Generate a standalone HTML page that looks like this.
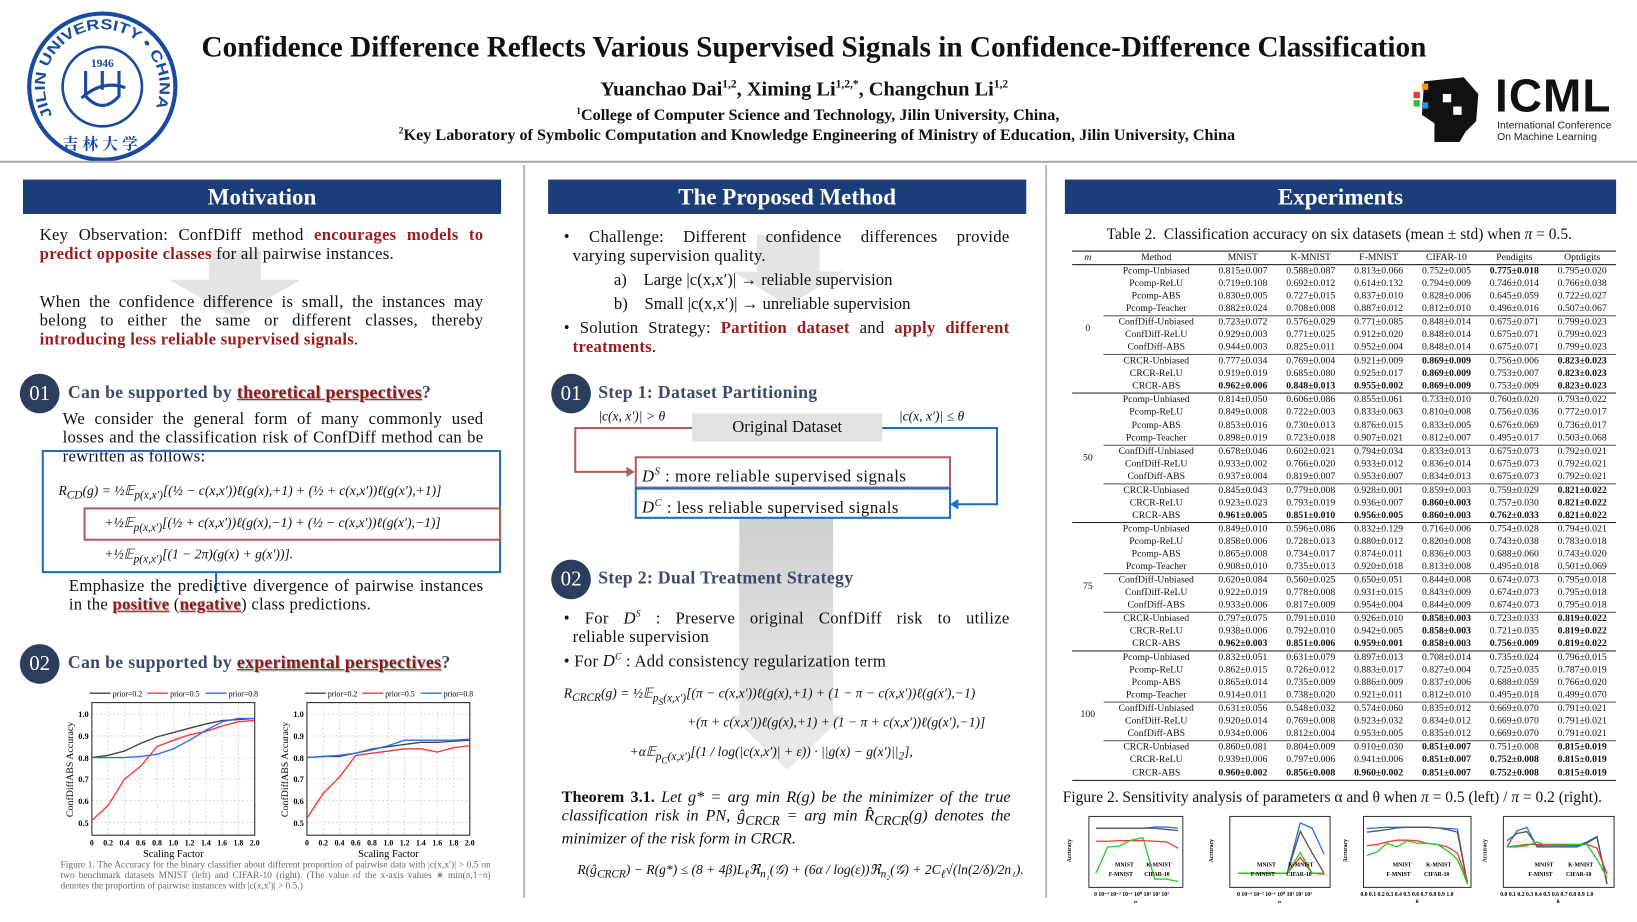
<!DOCTYPE html>
<html><head><meta charset="utf-8">
<style>
*{margin:0;padding:0;box-sizing:border-box}
body{width:1637px;height:922px;overflow:hidden;background:#fff;font-family:"Liberation Serif",serif;color:#111}
#w{position:absolute;left:0;top:0;width:1568px;height:883px;transform:scale(1.044);transform-origin:0 0}
.a{position:absolute;white-space:nowrap}
.bar{position:absolute;height:33px;background:#1c3e78;color:#fff;font-weight:bold;font-size:22px;text-align:center;line-height:33px}
.t{position:absolute;font-size:16px;line-height:18px;text-align:justify;letter-spacing:.25px}
.j{display:block;text-align:justify;text-align-last:justify}
.r{color:#9b1c1c;font-weight:bold}
.circ{position:absolute;width:38px;height:38px;border-radius:50%;background:#2c3d5e;color:#fff;font-size:20px;text-align:center;line-height:38px}
.h{position:absolute;font-weight:bold;font-size:17px;color:#3b4a6c;white-space:nowrap;letter-spacing:.3px}
.u{color:#8b1a1a;text-decoration:underline;text-shadow:1px 1px 1px #aaa}
.m{font-style:italic;font-size:13px}
table{border-collapse:collapse;table-layout:fixed;font-size:9.3px}
td{height:12.1px;line-height:12px;text-align:center;padding:0;white-space:nowrap}
b{font-weight:bold}
tr.g td{border-top:1px solid #555}
tr.G td{border-top:1.5px solid #222}
</style></head><body><div id="w">
<!-- header -->
<svg class="a" style="left:20px;top:6px" width="160" height="155" viewBox="0 0 160 155" font-family="Liberation Sans,sans-serif">
<defs><path id="arc" d="M30.4 104.5 A55 55 0 1 1 125.6 104.5"/></defs>
<circle cx="78" cy="77" r="70" fill="none" stroke="#1a4aa0" stroke-width="4"/>
<circle cx="78" cy="77" r="38" fill="none" stroke="#1a4aa0" stroke-width="2.5"/>
<text font-size="14" font-weight="bold" fill="#1a4aa0"><textPath href="#arc" textLength="222" lengthAdjust="spacingAndGlyphs">JILIN UNIVERSITY • CHINA</textPath></text>
<text x="78" y="58" font-size="11" font-weight="bold" fill="#1a4aa0" text-anchor="middle" font-family="Liberation Serif">1946</text>
<path d="M62 62 V86 Q78 104 94 86 V62 M78 62 V80 M58 88 Q78 70 100 78" stroke="#1a4aa0" stroke-width="3" fill="none"/>
<text x="78" y="137" font-size="15" font-weight="bold" fill="#1a4aa0" text-anchor="middle" font-family="Noto Serif CJK SC,serif" letter-spacing="4">吉林大学</text>
</svg>
<div class="a" style="left:193px;top:30px;font-size:28px;font-weight:bold">Confidence Difference Reflects Various Supervised Signals in Confidence-Difference Classification</div>
<div class="a" style="left:575px;top:75px;font-size:19.5px;font-weight:bold">Yuanchao Dai<sup style="font-size:11px">1,2</sup>, Ximing Li<sup style="font-size:11px">1,2,*</sup>, Changchun Li<sup style="font-size:11px">1,2</sup></div>
<div class="a" style="left:552px;top:101px;font-size:15.5px;font-weight:bold"><sup style="font-size:9px">1</sup>College of Computer Science and Technology, Jilin University, China,</div>
<div class="a" style="left:382px;top:120px;font-size:15.5px;font-weight:bold"><sup style="font-size:9px">2</sup>Key Laboratory of Symbolic Computation and Knowledge Engineering of Ministry of Education, Jilin University, China</div>
<svg class="a" style="left:1352px;top:70px" width="70" height="68">
<path d="M12 8 L50 4 L64 20 L62 46 L52 56 L46 66 L22 66 L22 48 L10 40 Z" fill="#111"/>
<rect x="2" y="18" width="6" height="6" fill="#e33"/><rect x="10" y="10" width="6" height="6" fill="#f90"/><rect x="2" y="26" width="6" height="6" fill="#3b3"/><rect x="10" y="28" width="6" height="6" fill="#29d"/>
<rect x="30" y="20" width="8" height="8" fill="#fff"/><rect x="40" y="32" width="8" height="8" fill="#fff"/>
</svg>
<div class="a" style="left:1432px;top:68px;font-size:44px;font-weight:bold;font-family:'Liberation Sans',sans-serif;letter-spacing:1px">ICML</div>
<div class="a" style="left:1434px;top:115px;font-size:10px;font-family:'Liberation Sans',sans-serif;line-height:11px;color:#222">International Conference<br>On Machine Learning</div>
<div class="a" style="left:0;top:154px;width:1568px;height:2px;background:#aaa"></div>
<div class="a" style="left:501px;top:158px;width:2px;height:702px;background:#bbb"></div>
<div class="a" style="left:1001px;top:158px;width:2px;height:702px;background:#bbb"></div>

<!-- Motivation -->
<div class="bar" style="left:22px;top:172px;width:458px">Motivation</div>
<svg class="a" style="left:160px;top:240px" width="130" height="65"><path d="M40 0 H90 V28 H128 L65 64 L2 28 H40 Z" fill="#ddd" opacity=".8"/></svg>
<div class="t" style="left:38px;top:217px;width:425px">Key Observation: ConfDiff method <span class="r">encourages models to predict opposite classes</span> for all pairwise instances.</div>
<div class="t" style="left:38px;top:281px;width:425px">When the confidence difference is small, the instances may belong to either the same or different classes, thereby <span class="r">introducing less reliable supervised signals</span>.</div>
<div class="circ" style="left:19px;top:358px">01</div>
<div class="h" style="left:65px;top:366px">Can be supported by <span class="u">theoretical perspectives</span>?</div>
<div class="t" style="left:60px;top:393px;width:403px">We consider the general form of many commonly used losses and the classification risk of ConfDiff method can be rewritten as follows:</div>
<div class="a" style="left:40px;top:431px;width:440px;height:118px;border:2px solid #1f6fc0"></div>
<div class="a" style="left:80px;top:486px;width:400px;height:32px;border:2px solid #b06060"></div>
<div class="a m" style="left:56px;top:462px">R<sub>CD</sub>(g) = ½𝔼<sub>p(x,x′)</sub>[(½ − c(x,x′))ℓ(g(x),+1) + (½ + c(x,x′))ℓ(g(x′),+1)]</div>
<div class="a m" style="left:100px;top:493px">+½𝔼<sub>p(x,x′)</sub>[(½ + c(x,x′))ℓ(g(x),−1) + (½ − c(x,x′))ℓ(g(x′),−1)]</div>
<div class="a m" style="left:100px;top:523px">+½𝔼<sub>p(x,x′)</sub>[(1 − 2π)(g(x) + g(x′))].</div>
<div class="a" style="left:40px;top:548px;width:168px;height:20px;border-right:2px solid #1f6fc0"></div>
<div class="t" style="left:66px;top:553px;width:397px">Emphasize the predictive divergence of pairwise instances in the <span class="u" style="font-weight:bold">positive</span> (<span class="u" style="font-weight:bold">negative</span>) class predictions.</div>
<div class="circ" style="left:19px;top:617px">02</div>
<div class="h" style="left:65px;top:625px">Can be supported by <span class="u">experimental perspectives</span>?</div>

<svg class="a" style="left:0;top:650px" width="500" height="210" viewBox="0 650 500 210" font-family="Liberation Serif">
<g stroke="#ccc" stroke-dasharray="2,2" stroke-width=".7">
<path d="M88 684H244M88 705H244M88 726H244M88 746H244M88 767H244M88 788H244M103.6 673V800M119.2 673V800M134.8 673V800M150.4 673V800M166 673V800M181.6 673V800M197.2 673V800M212.8 673V800M228.4 673V800"/>
<path d="M294 684H450M294 705H450M294 726H450M294 746H450M294 767H450M294 788H450M309.6 673V800M325.2 673V800M340.8 673V800M356.4 673V800M372 673V800M387.6 673V800M403.2 673V800M418.8 673V800M434.4 673V800"/>
</g>
<rect x="88" y="673" width="156" height="127" fill="none" stroke="#222"/>
<rect x="294" y="673" width="156" height="127" fill="none" stroke="#222"/>
<g fill="none" stroke-width="1.3">
<polyline stroke="#444" points="88,725.6 103.6,723.5 119.2,719.4 134.8,712.1 150.4,705.8 166,701.7 181.6,697.5 197.2,693.4 212.8,690.2 228.4,689.2 244,688.2"/>
<polyline stroke="#f33" points="88,785.9 103.6,771.4 119.2,746.4 134.8,733.9 150.4,715.2 166,709 181.6,703.8 197.2,700.6 212.8,695.4 228.4,691.3 244,690.2"/>
<polyline stroke="#2a6ef0" points="88,725.6 103.6,725.6 119.2,725.6 134.8,724.6 150.4,722.5 166,717.3 181.6,709 197.2,699.6 212.8,691.3 228.4,688.2 244,688.2"/>
<polyline stroke="#444" points="294,725.6 309.6,724.6 325.2,724.6 340.8,721.4 356.4,717.3 372,715.2 387.6,713.1 403.2,711 418.8,711 434.4,710 450,709"/>
<polyline stroke="#f33" points="294,783.8 309.6,759.9 325.2,744.3 340.8,723.5 356.4,721.4 372,719.4 387.6,717.3 403.2,717.3 418.8,720.4 434.4,716.2 450,714.2"/>
<polyline stroke="#2a6ef0" points="294,725.6 309.6,724.6 325.2,723.5 340.8,721.4 356.4,718.3 372,714.2 387.6,709 403.2,709 418.8,709 434.4,709 450,708"/>
</g>
<g font-size="8" font-weight="bold" text-anchor="end">
<text x="85" y="687">1.0</text><text x="85" y="708">0.9</text><text x="85" y="729">0.8</text><text x="85" y="749">0.7</text><text x="85" y="770">0.6</text><text x="85" y="791">0.5</text>
<text x="291" y="687">1.0</text><text x="291" y="708">0.9</text><text x="291" y="729">0.8</text><text x="291" y="749">0.7</text><text x="291" y="770">0.6</text><text x="291" y="791">0.5</text>
</g>
<g font-size="7.5" font-weight="bold" text-anchor="middle">
<text x="88" y="810">0</text><text x="103.6" y="810">0.2</text><text x="119.2" y="810">0.4</text><text x="134.8" y="810">0.6</text><text x="150.4" y="810">0.8</text><text x="166" y="810">1.0</text><text x="181.6" y="810">1.2</text><text x="197.2" y="810">1.4</text><text x="212.8" y="810">1.6</text><text x="228.4" y="810">1.8</text><text x="244" y="810">2.0</text>
<text x="294" y="810">0</text><text x="309.6" y="810">0.2</text><text x="325.2" y="810">0.4</text><text x="340.8" y="810">0.6</text><text x="356.4" y="810">0.8</text><text x="372" y="810">1.0</text><text x="387.6" y="810">1.2</text><text x="403.2" y="810">1.4</text><text x="418.8" y="810">1.6</text><text x="434.4" y="810">1.8</text><text x="450" y="810">2.0</text>
</g>
<text x="166" y="821" font-size="10" text-anchor="middle">Scaling Factor</text>
<text x="372" y="821" font-size="10" text-anchor="middle">Scaling Factor</text>
<text transform="translate(70,737) rotate(-90)" font-size="9.5" text-anchor="middle">ConfDiffABS Accuracy</text>
<text transform="translate(276,737) rotate(-90)" font-size="9.5" text-anchor="middle">ConfDiffABS Accuracy</text>
<g font-size="7.5">
<path d="M86 664h20" stroke="#444" stroke-width="1.3"/><text x="108" y="667">prior=0.2</text>
<path d="M141 664h20" stroke="#f33" stroke-width="1.3"/><text x="163" y="667">prior=0.5</text>
<path d="M197 664h20" stroke="#2a6ef0" stroke-width="1.3"/><text x="219" y="667">prior=0.8</text>
<path d="M292 664h20" stroke="#444" stroke-width="1.3"/><text x="314" y="667">prior=0.2</text>
<path d="M347 664h20" stroke="#f33" stroke-width="1.3"/><text x="369" y="667">prior=0.5</text>
<path d="M403 664h20" stroke="#2a6ef0" stroke-width="1.3"/><text x="425" y="667">prior=0.8</text>
</g>
</svg>
<div class="a" style="left:58px;top:823px;width:412px;font-size:9px;line-height:10px;color:#666;white-space:normal;text-align:justify">Figure 1. The Accuracy for the binary classifier about different proportion of pairwise data with |c(x,x′)| &gt; 0.5 on two benchmark datasets MNIST (left) and CIFAR-10 (right). (The value of the x-axis values ∗ min(π,1−π) denotes the proportion of pairwise instances with |c(x,x′)| &gt; 0.5.)</div>

<!-- Method -->
<div class="bar" style="left:525px;top:172px;width:458px">The Proposed Method</div>
<svg class="a" style="left:700px;top:225px" width="110" height="70"><path d="M25 0 H85 V35 H108 L55 68 L2 35 H25 Z" fill="#ddd" opacity=".8"/></svg>
<svg class="a" style="left:700px;top:495px" width="110" height="245"><defs><linearGradient id="gg" x1="0" y1="0" x2="0" y2="1"><stop offset="0" stop-color="#c8c8c8"/><stop offset="1" stop-color="#e8e8e8"/></linearGradient></defs><path d="M8 0 H98 V190 H108 L54 243 L0 190 H8 Z" fill="url(#gg)" opacity=".85"/></svg>
<div class="t" style="left:540px;top:219px;width:427px"><span class="j">•&nbsp;Challenge: Different confidence differences provide</span>&nbsp;&nbsp;varying supervision quality.</div>
<div class="a" style="left:588px;top:260px;font-size:16px">a)&nbsp;&nbsp;&nbsp;&nbsp;Large |c(x,x′)| → reliable supervision</div>
<div class="a" style="left:588px;top:283px;font-size:16px">b)&nbsp;&nbsp;&nbsp;&nbsp;Small |c(x,x′)| → unreliable supervision</div>
<div class="t" style="left:540px;top:306px;width:427px"><span class="j">•&nbsp;Solution Strategy: <span class="r">Partition dataset</span> and <span class="r">apply different</span></span>&nbsp;&nbsp;<span class="r">treatments</span>.</div>
<div class="circ" style="left:528px;top:358px">01</div>
<div class="h" style="left:573px;top:366px">Step 1: Dataset Partitioning</div>
<div class="a m" style="left:573px;top:391px">|c(x, x′)| &gt; θ</div>
<div class="a m" style="left:861px;top:391px">|c(x, x′)| ≤ θ</div>
<div class="a" style="left:663px;top:396px;width:182px;height:27px;background:#e2e2e2;font-size:16px;text-align:center;line-height:27px">Original Dataset</div>
<svg class="a" style="left:540px;top:400px" width="430" height="105" viewBox="540 400 430 105" fill="none" stroke-width="2">
<path d="M663 410 H551 V452 H604" stroke="#b06060"/><path d="M600 447 L608 452 L600 457Z" fill="#b06060" stroke="none"/>
<path d="M845 410 H955 V483 H916" stroke="#1f6fc0"/><path d="M918 478 L910 483 L918 488Z" fill="#1f6fc0" stroke="none"/>
</svg>
<div class="a" style="left:608px;top:437px;width:303px;height:31px;border:2px solid #b06060;font-size:16px;line-height:27px;padding-left:5px;letter-spacing:.5px"><i>D<sup style="font-size:10px">S</sup></i> : more reliable supervised signals</div>
<div class="a" style="left:608px;top:467px;width:303px;height:30px;border:2px solid #1f6fc0;font-size:16px;line-height:27px;padding-left:5px;letter-spacing:.5px"><i>D<sup style="font-size:10px">C</sup></i> : less reliable supervised signals</div>
<div class="circ" style="left:528px;top:536px">02</div>
<div class="h" style="left:573px;top:544px">Step 2: Dual Treatment Strategy</div>
<div class="t" style="left:540px;top:579px;width:427px"><span class="j">•&nbsp;For <i>D<sup style="font-size:9px">S</sup></i> : Preserve original ConfDiff risk to utilize</span>&nbsp;&nbsp;reliable supervision</div>
<div class="t" style="left:540px;top:620px;width:427px">•&nbsp;For <i>D<sup style="font-size:9px">C</sup></i> : Add consistency regularization term</div>
<div class="a m" style="left:540px;top:656px">R<sub>CRCR</sub>(g) = ½𝔼<sub>p<sub>S</sub>(x,x′)</sub>[(π − c(x,x′))ℓ(g(x),+1) + (1 − π − c(x,x′))ℓ(g(x′),−1)</div>
<div class="a m" style="left:658px;top:684px">+(π + c(x,x′))ℓ(g(x),+1) + (1 − π + c(x,x′))ℓ(g(x′),−1)]</div>
<div class="a m" style="left:603px;top:712px">+α𝔼<sub>p<sub>C</sub>(x,x′)</sub>[(1 / log(|c(x,x′)| + ε)) · ||g(x) − g(x′)||<sub>2</sub>],</div>
<div class="t" style="left:538px;top:755px;width:430px;font-size:15.5px;letter-spacing:0"><b>Theorem 3.1.</b> <i>Let g* = arg min R(g) be the minimizer of the true classification risk in PN, ĝ<sub>CRCR</sub> = arg min R̂<sub>CRCR</sub>(g) denotes the minimizer of the risk form in CRCR.</i></div>
<div class="a m" style="left:553px;top:825px">R(ĝ<sub>CRCR</sub>) − R(g*) ≤ (8 + 4β)L<sub>ℓ</sub>ℜ<sub>n₁</sub>(𝒢) + (6α / log(ε))ℜ<sub>n₂</sub>(𝒢) + 2C<sub>ℓ</sub>√(ln(2/δ)/2n₁).</div>

<!-- Experiments -->
<div class="bar" style="left:1020px;top:172px;width:528px">Experiments</div>
<div class="a" style="left:1060px;top:217px;font-size:14.8px">Table 2.&nbsp; Classification accuracy on six datasets (mean ± std) when <i>π</i> = 0.5.</div>
<table class="a" style="left:1027px;top:240px;width:521px;border-top:1.5px solid #111;border-bottom:1.5px solid #111">
<colgroup><col style="width:30px"><col style="width:101px"><col span="6" style="width:65px"></colgroup>
<tr style="border-bottom:1.5px solid #111"><td><i>m</i></td><td>Method</td><td>MNIST</td><td>K-MNIST</td><td>F-MNIST</td><td>CIFAR-10</td><td>Pendigits</td><td>Optdigits</td></tr>
<tr><td rowspan="10">0</td><td>Pcomp-Unbiased</td><td>0.815±0.007</td><td>0.588±0.087</td><td>0.813±0.066</td><td>0.752±0.005</td><td><b>0.775±0.018</b></td><td>0.795±0.020</td></tr>
<tr><td>Pcomp-ReLU</td><td>0.719±0.108</td><td>0.692±0.012</td><td>0.614±0.132</td><td>0.794±0.009</td><td>0.746±0.014</td><td>0.766±0.038</td></tr>
<tr><td>Pcomp-ABS</td><td>0.830±0.005</td><td>0.727±0.015</td><td>0.837±0.010</td><td>0.828±0.006</td><td>0.645±0.059</td><td>0.722±0.027</td></tr>
<tr><td>Pcomp-Teacher</td><td>0.882±0.024</td><td>0.708±0.008</td><td>0.887±0.012</td><td>0.812±0.010</td><td>0.496±0.016</td><td>0.507±0.067</td></tr>
<tr class="g"><td>ConfDiff-Unbiased</td><td>0.723±0.072</td><td>0.576±0.029</td><td>0.771±0.085</td><td>0.848±0.014</td><td>0.675±0.071</td><td>0.799±0.023</td></tr>
<tr><td>ConfDiff-ReLU</td><td>0.929±0.003</td><td>0.771±0.025</td><td>0.912±0.020</td><td>0.848±0.014</td><td>0.675±0.071</td><td>0.799±0.023</td></tr>
<tr><td>ConfDiff-ABS</td><td>0.944±0.003</td><td>0.825±0.011</td><td>0.952±0.004</td><td>0.848±0.014</td><td>0.675±0.071</td><td>0.799±0.023</td></tr>
<tr class="g"><td>CRCR-Unbiased</td><td>0.777±0.034</td><td>0.769±0.004</td><td>0.921±0.009</td><td><b>0.869±0.009</b></td><td>0.756±0.006</td><td><b>0.823±0.023</b></td></tr>
<tr><td>CRCR-ReLU</td><td>0.919±0.019</td><td>0.685±0.080</td><td>0.925±0.017</td><td><b>0.869±0.009</b></td><td>0.753±0.007</td><td><b>0.823±0.023</b></td></tr>
<tr><td>CRCR-ABS</td><td><b>0.962±0.006</b></td><td><b>0.848±0.013</b></td><td><b>0.955±0.002</b></td><td><b>0.869±0.009</b></td><td>0.753±0.009</td><td><b>0.823±0.023</b></td></tr>
<tr class="G"><td rowspan="10">50</td><td>Pcomp-Unbiased</td><td>0.814±0.050</td><td>0.606±0.086</td><td>0.855±0.061</td><td>0.733±0.010</td><td>0.760±0.020</td><td>0.793±0.022</td></tr>
<tr><td>Pcomp-ReLU</td><td>0.849±0.008</td><td>0.722±0.003</td><td>0.833±0.063</td><td>0.810±0.008</td><td>0.756±0.036</td><td>0.772±0.017</td></tr>
<tr><td>Pcomp-ABS</td><td>0.853±0.016</td><td>0.730±0.013</td><td>0.876±0.015</td><td>0.833±0.005</td><td>0.676±0.069</td><td>0.736±0.017</td></tr>
<tr><td>Pcomp-Teacher</td><td>0.898±0.019</td><td>0.723±0.018</td><td>0.907±0.021</td><td>0.812±0.007</td><td>0.495±0.017</td><td>0.503±0.068</td></tr>
<tr class="g"><td>ConfDiff-Unbiased</td><td>0.678±0.046</td><td>0.602±0.021</td><td>0.794±0.034</td><td>0.833±0.013</td><td>0.675±0.073</td><td>0.792±0.021</td></tr>
<tr><td>ConfDiff-ReLU</td><td>0.933±0.002</td><td>0.766±0.020</td><td>0.933±0.012</td><td>0.836±0.014</td><td>0.675±0.073</td><td>0.792±0.021</td></tr>
<tr><td>ConfDiff-ABS</td><td>0.937±0.004</td><td>0.819±0.007</td><td>0.953±0.007</td><td>0.834±0.013</td><td>0.675±0.073</td><td>0.792±0.021</td></tr>
<tr class="g"><td>CRCR-Unbiased</td><td>0.845±0.043</td><td>0.779±0.008</td><td>0.928±0.001</td><td>0.859±0.003</td><td>0.759±0.029</td><td><b>0.821±0.022</b></td></tr>
<tr><td>CRCR-ReLU</td><td>0.923±0.023</td><td>0.793±0.019</td><td>0.936±0.007</td><td><b>0.860±0.003</b></td><td>0.757±0.030</td><td><b>0.821±0.022</b></td></tr>
<tr><td>CRCR-ABS</td><td><b>0.961±0.005</b></td><td><b>0.851±0.010</b></td><td><b>0.956±0.005</b></td><td><b>0.860±0.003</b></td><td><b>0.762±0.033</b></td><td><b>0.821±0.022</b></td></tr>
<tr class="G"><td rowspan="10">75</td><td>Pcomp-Unbiased</td><td>0.849±0.010</td><td>0.596±0.086</td><td>0.832±0.129</td><td>0.716±0.006</td><td>0.754±0.028</td><td>0.794±0.021</td></tr>
<tr><td>Pcomp-ReLU</td><td>0.858±0.006</td><td>0.728±0.013</td><td>0.880±0.012</td><td>0.820±0.008</td><td>0.743±0.038</td><td>0.783±0.018</td></tr>
<tr><td>Pcomp-ABS</td><td>0.865±0.008</td><td>0.734±0.017</td><td>0.874±0.011</td><td>0.836±0.003</td><td>0.688±0.060</td><td>0.743±0.020</td></tr>
<tr><td>Pcomp-Teacher</td><td>0.908±0.010</td><td>0.735±0.013</td><td>0.920±0.018</td><td>0.813±0.008</td><td>0.495±0.018</td><td>0.501±0.069</td></tr>
<tr class="g"><td>ConfDiff-Unbiased</td><td>0.620±0.084</td><td>0.560±0.025</td><td>0.650±0.051</td><td>0.844±0.008</td><td>0.674±0.073</td><td>0.795±0.018</td></tr>
<tr><td>ConfDiff-ReLU</td><td>0.922±0.019</td><td>0.778±0.008</td><td>0.931±0.015</td><td>0.843±0.009</td><td>0.674±0.073</td><td>0.795±0.018</td></tr>
<tr><td>ConfDiff-ABS</td><td>0.933±0.006</td><td>0.817±0.009</td><td>0.954±0.004</td><td>0.844±0.009</td><td>0.674±0.073</td><td>0.795±0.018</td></tr>
<tr class="g"><td>CRCR-Unbiased</td><td>0.797±0.075</td><td>0.791±0.010</td><td>0.926±0.010</td><td><b>0.858±0.003</b></td><td>0.723±0.033</td><td><b>0.819±0.022</b></td></tr>
<tr><td>CRCR-ReLU</td><td>0.938±0.006</td><td>0.792±0.010</td><td>0.942±0.005</td><td><b>0.858±0.003</b></td><td>0.721±0.035</td><td><b>0.819±0.022</b></td></tr>
<tr><td>CRCR-ABS</td><td><b>0.962±0.003</b></td><td><b>0.851±0.006</b></td><td><b>0.959±0.001</b></td><td><b>0.858±0.003</b></td><td><b>0.756±0.009</b></td><td><b>0.819±0.022</b></td></tr>
<tr class="G"><td rowspan="10">100</td><td>Pcomp-Unbiased</td><td>0.832±0.051</td><td>0.631±0.079</td><td>0.897±0.013</td><td>0.708±0.014</td><td>0.735±0.024</td><td>0.796±0.015</td></tr>
<tr><td>Pcomp-ReLU</td><td>0.862±0.015</td><td>0.726±0.012</td><td>0.883±0.017</td><td>0.827±0.004</td><td>0.725±0.035</td><td>0.787±0.019</td></tr>
<tr><td>Pcomp-ABS</td><td>0.865±0.014</td><td>0.735±0.009</td><td>0.886±0.009</td><td>0.837±0.006</td><td>0.688±0.059</td><td>0.766±0.020</td></tr>
<tr><td>Pcomp-Teacher</td><td>0.914±0.011</td><td>0.738±0.020</td><td>0.921±0.011</td><td>0.812±0.010</td><td>0.495±0.018</td><td>0.499±0.070</td></tr>
<tr class="g"><td>ConfDiff-Unbiased</td><td>0.631±0.056</td><td>0.548±0.032</td><td>0.574±0.060</td><td>0.835±0.012</td><td>0.669±0.070</td><td>0.791±0.021</td></tr>
<tr><td>ConfDiff-ReLU</td><td>0.920±0.014</td><td>0.769±0.008</td><td>0.923±0.032</td><td>0.834±0.012</td><td>0.669±0.070</td><td>0.791±0.021</td></tr>
<tr><td>ConfDiff-ABS</td><td>0.934±0.006</td><td>0.812±0.004</td><td>0.953±0.005</td><td>0.835±0.012</td><td>0.669±0.070</td><td>0.791±0.021</td></tr>
<tr class="g"><td>CRCR-Unbiased</td><td>0.860±0.081</td><td>0.804±0.009</td><td>0.910±0.030</td><td><b>0.851±0.007</b></td><td>0.751±0.008</td><td><b>0.815±0.019</b></td></tr>
<tr><td>CRCR-ReLU</td><td>0.939±0.006</td><td>0.797±0.006</td><td>0.941±0.006</td><td><b>0.851±0.007</b></td><td><b>0.752±0.008</b></td><td><b>0.815±0.019</b></td></tr>
<tr><td>CRCR-ABS</td><td><b>0.960±0.002</b></td><td><b>0.856±0.008</b></td><td><b>0.960±0.002</b></td><td><b>0.851±0.007</b></td><td><b>0.752±0.008</b></td><td><b>0.815±0.019</b></td></tr>
</table>
<div class="a" style="left:1018px;top:756px;font-size:14.8px">Figure 2. Sensitivity analysis of parameters α and θ when <i>π</i> = 0.5 (left) / <i>π</i> = 0.2 (right).</div>
<svg class="a" style="left:1010px;top:775px" width="558" height="90" viewBox="1010 775 558 90" font-family="Liberation Serif">
<g fill="none" stroke-width="1.1">
<g transform="translate(1043,782) scale(1.125,1.133) translate(-1039,-781)">
<rect x="1039" y="781" width="80" height="60" stroke="#222" stroke-width=".8"/>
<polyline stroke="#2a6ef0" points="1045,791 1055,791 1065,791 1075,791 1085,791 1095,790 1105,790 1115,791"/>
<polyline stroke="#555" points="1045,791 1055,791 1065,791 1075,791 1085,791 1095,791 1105,792 1115,793"/>
<polyline stroke="#f33" points="1045,802 1055,802 1065,801.5 1075,801.5 1085,801.5 1095,802 1105,802.5 1115,808"/>
<polyline stroke="#2c2" points="1045,829 1055,807 1065,806 1075,801 1085,799 1095,834 1105,834 1115,836"/>
</g>
<g transform="translate(1178,782) scale(1.143,1.133) translate(-1159,-781)">
<rect x="1159" y="781" width="84" height="60" stroke="#222" stroke-width=".8"/>
<polyline stroke="#2a6ef0" points="1166,829 1176,829 1187,829 1197,829 1207,829 1218,786.5 1228,791 1238,813"/>
<polyline stroke="#555" points="1166,829 1176,829 1187,829 1197,829 1207,829 1218,793.6 1228,812 1238,829"/>
<polyline stroke="#f33" points="1166,829 1176,829 1187,829 1197,829 1207,829 1218,815.6 1228,829 1238,830"/>
<polyline stroke="#2c2" points="1166,829 1176,829 1187,829 1197,829 1207,829 1218,811.6 1228,829 1238,829"/>
</g>
<g transform="translate(1306,782) scale(1.132,1.133) translate(-1272,-781)">
<rect x="1272" y="781" width="91" height="60" stroke="#222" stroke-width=".8"/>
<polyline stroke="#2a6ef0" points="1275,791.2 1283.5,790.7 1292,790.2 1300.5,790.2 1309,790.2 1317.5,790.2 1326,790.2 1334.5,790.7 1343,791.2 1351.5,791.7 1360,838"/>
<polyline stroke="#555" points="1275,794.3 1283.5,793.3 1292,792.2 1300.5,790.7 1309,790.2 1317.5,790.2 1326,790.2 1334.5,790.7 1343,792.2 1351.5,794.3 1360,838"/>
<polyline stroke="#f33" points="1275,805.8 1283.5,804.7 1292,802.6 1300.5,801.1 1309,801.1 1317.5,801.6 1326,803.7 1334.5,804.7 1343,806.8 1351.5,812 1360,835.9"/>
<polyline stroke="#2c2" points="1275,814.1 1283.5,811 1292,803.7 1300.5,806.8 1309,801.6 1317.5,803.7 1326,803.7 1334.5,804.7 1343,809.9 1351.5,817.2 1360,838"/>
</g>
<g transform="translate(1440,782) scale(1.128,1.133) translate(-1391,-781)">
<rect x="1391" y="781" width="94" height="60" stroke="#222" stroke-width=".8"/>
<polyline stroke="#2a6ef0" points="1394,806.8 1402.5,793.3 1411,790.2 1419.5,806.8 1428,806.8 1436.5,806.8 1445,806.8 1453.5,806.8 1462,803.7 1470.5,798.5 1479,838"/>
<polyline stroke="#555" points="1394,801.6 1402.5,795.4 1411,793.8 1419.5,805.8 1428,805.8 1436.5,805.8 1445,805.8 1453.5,805.8 1462,802.6 1470.5,798 1479,838"/>
<polyline stroke="#f33" points="1394,806.8 1402.5,805.8 1411,804.7 1419.5,804.7 1428,804.7 1436.5,804.7 1445,804.7 1453.5,804.7 1462,804.7 1470.5,807.8 1479,829.7"/>
<polyline stroke="#2c2" points="1394,806.8 1402.5,806.8 1411,805.8 1419.5,802.6 1428,805.8 1436.5,805.2 1445,805.2 1453.5,804.7 1462,804.7 1470.5,817.2 1479,832.8"/>
</g>
</g>
<g font-size="5.5" font-weight="bold">
<text x="1068" y="830">MNIST</text><text x="1098" y="830">K-MNIST</text><text x="1062" y="839">F-MNIST</text><text x="1096" y="839">CIFAR-10</text>
<text x="1204" y="830">MNIST</text><text x="1234" y="830">K-MNIST</text><text x="1198" y="839">F-MNIST</text><text x="1232" y="839">CIFAR-10</text>
<text x="1334" y="830">MNIST</text><text x="1366" y="830">K-MNIST</text><text x="1328" y="839">F-MNIST</text><text x="1364" y="839">CIFAR-10</text>
<text x="1470" y="830">MNIST</text><text x="1502" y="830">K-MNIST</text><text x="1464" y="839">F-MNIST</text><text x="1500" y="839">CIFAR-10</text>
<text x="1048" y="858">0  10⁻³ 10⁻² 10⁻¹ 10⁰ 10¹ 10² 10³</text>
<text x="1185" y="858">0  10⁻³ 10⁻² 10⁻¹ 10⁰ 10¹ 10² 10³</text>
<text x="1303" y="858">0.0 0.1 0.2 0.3 0.4 0.5 0.6 0.7 0.8 0.9 1.0</text>
<text x="1437" y="858">0.0 0.1 0.2 0.3 0.4 0.5 0.6 0.7 0.8 0.9 1.0</text>
<text x="1086" y="866">α</text><text x="1224" y="866">α</text><text x="1356" y="866">θ</text><text x="1491" y="866">θ</text>
<text transform="translate(1026,826) rotate(-90)">Accuracy</text><text transform="translate(1162,826) rotate(-90)">Accuracy</text>
<text transform="translate(1290,826) rotate(-90)">Accuracy</text><text transform="translate(1424,826) rotate(-90)">Accuracy</text>
</g>
</svg>
</div></body></html>
